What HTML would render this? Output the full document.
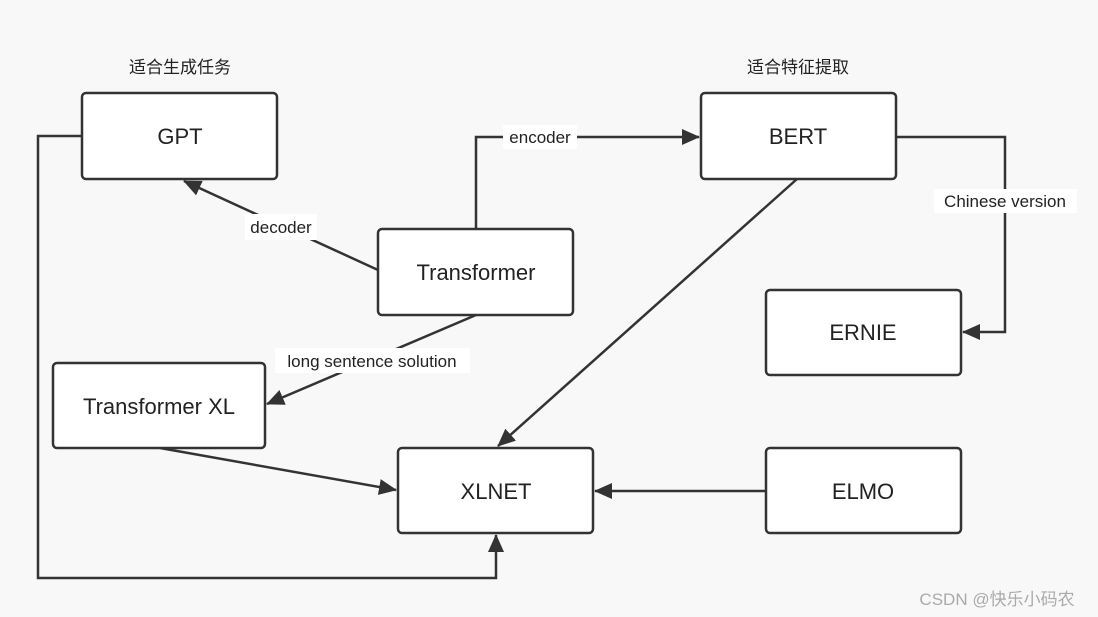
<!DOCTYPE html>
<html><head><meta charset="utf-8"><style>
html,body{margin:0;padding:0;background:#f8f8f8;}
svg{display:block;}
text{font-family:"Liberation Sans","Noto Sans CJK SC",sans-serif;fill:#222;}
</style></head><body>
<svg width="1098" height="617" viewBox="0 0 1098 617" xmlns="http://www.w3.org/2000/svg">
<defs><marker id="a" markerWidth="10" markerHeight="10" refX="9" refY="5" orient="auto" markerUnits="userSpaceOnUse" viewBox="0 0 10 10"><path d="M0,0 L10,5 L0,10 z" fill="#333"/></marker>
<marker id="b" markerWidth="18" markerHeight="16" refX="17" refY="8" orient="auto" markerUnits="userSpaceOnUse" viewBox="0 0 18 16"><path d="M0,0 L18,8 L0,16 z" fill="#333"/></marker></defs>
<g stroke="#333" stroke-width="2.5" fill="none">
<line x1="378" y1="270" x2="184" y2="181" marker-end="url(#b)"/>
<polyline points="476,229 476,137 699,137" marker-end="url(#b)"/>
<polyline points="896,137 1005,137 1005,332 963,332" marker-end="url(#b)"/>
<line x1="476" y1="315" x2="267" y2="404" marker-end="url(#b)"/>
<line x1="797" y1="179" x2="498" y2="446" marker-end="url(#b)"/>
<line x1="160" y1="448" x2="396" y2="490" marker-end="url(#b)"/>
<line x1="766" y1="491" x2="595" y2="491" marker-end="url(#b)"/>
<polyline points="82,136 38,136 38,578 496,578 496,535" marker-end="url(#b)"/>
</g>
<g fill="#fff" stroke="#333" stroke-width="2.5">
<rect x="82" y="93" width="195" height="86" rx="4"/>
<rect x="701" y="93" width="195" height="86" rx="4"/>
<rect x="378" y="229" width="195" height="86" rx="4"/>
<rect x="766" y="290" width="195" height="85" rx="4"/>
<rect x="53" y="363" width="212" height="85" rx="4"/>
<rect x="398" y="448" width="195" height="85" rx="4"/>
<rect x="766" y="448" width="195" height="85" rx="4"/>
</g>
<g fill="#fff">
<rect x="245" y="214" width="72" height="26"/>
<rect x="503" y="125" width="74" height="24"/>
<rect x="934" y="189" width="143" height="24"/>
<rect x="275" y="348" width="195" height="25"/>
</g>
<g font-size="22" text-anchor="middle">
<text x="180" y="144">GPT</text>
<text x="798" y="144">BERT</text>
<text x="476" y="280">Transformer</text>
<text x="863" y="340">ERNIE</text>
<text x="159" y="414">Transformer XL</text>
<text x="496" y="499">XLNET</text>
<text x="863" y="499">ELMO</text>
</g>
<g font-size="17" text-anchor="middle">
<text x="281" y="233">decoder</text>
<text x="540" y="143">encoder</text>
<text x="1005" y="207">Chinese version</text>
<text x="372" y="367">long sentence solution</text>
<text x="180" y="73">适合生成任务</text>
<text x="798" y="73">适合特征提取</text>
</g>
<text x="997" y="605" font-size="17" text-anchor="middle" style="fill:#aaa">CSDN @快乐小码农</text>
</svg>
</body></html>
